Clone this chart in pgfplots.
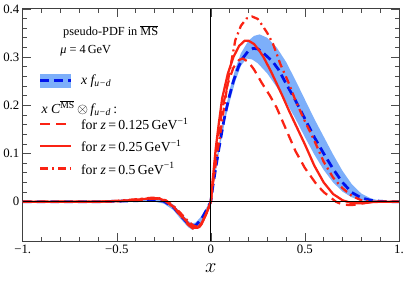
\documentclass[border=0pt]{standalone}
\usepackage{pgfplots}
\pgfplotsset{compat=1.18}
\usepackage{fontspec}
\setmainfont{Liberation Serif}
\definecolor{bandblue}{RGB}{125,175,250}
\definecolor{lblue}{RGB}{0,20,235}
\definecolor{lred}{RGB}{250,35,20}
\begin{document}
\begin{tikzpicture}
\begin{axis}[
  scale only axis, width=382pt, height=236pt,
  xmin=-1, xmax=1, ymin=-0.082, ymax=0.4,
  xtick={-1,-0.5,0,0.5,1}, xticklabels={−1.,−0.5,0,0.5,1.},
  ytick={0,0.1,0.2,0.3,0.4}, yticklabels={0,0.1,0.2,0.3,0.4},
  minor x tick num=4, minor y tick num=4,
  tick align=inside, major tick length=8pt, minor tick length=4pt,
  axis line style={black!75, line width=0.8pt},
  tick style={black!70, line width=0.6pt},
  ticklabel style={font=\fontsize{13}{13}\selectfont},
  xlabel={$x$}, xlabel style={font=\fontsize{21}{21}\selectfont, yshift=-4pt},
  clip=true,
]
% band
\addplot[fill=bandblue, draw=none] coordinates {
(-1,0.001) (-0.6,0.002) (-0.5,0.003) (-0.4,0.005) (-0.3,0.008) (-0.25,0.005) (-0.2,-0.006) (-0.16,-0.023) (-0.12,-0.04) (-0.1,-0.045) (-0.08,-0.043) (-0.05,-0.03) (-0.02,-0.01) (0,0)
(0.01,0.035) (0.02,0.065) (0.05,0.135) (0.08,0.195) (0.1,0.232) (0.13,0.275) (0.16,0.308) (0.2,0.334) (0.23,0.344) (0.26,0.347) (0.3,0.34) (0.35,0.32) (0.4,0.29) (0.45,0.252) (0.5,0.212) (0.55,0.172) (0.6,0.135) (0.65,0.098) (0.7,0.064) (0.75,0.036) (0.8,0.017) (0.85,0.007) (0.9,0.002) (0.95,0.0005) (1,0)
(1,0) (0.95,0) (0.9,0) (0.85,0.001) (0.8,0.003) (0.75,0.009) (0.7,0.021) (0.65,0.04) (0.6,0.066) (0.55,0.098) (0.5,0.134) (0.45,0.172) (0.4,0.207) (0.35,0.238) (0.3,0.266) (0.25,0.287) (0.22,0.295) (0.19,0.297) (0.16,0.282) (0.13,0.25) (0.1,0.207) (0.08,0.176) (0.05,0.118) (0.02,0.048) (0.01,0.025) (0,0)
(-0.02,-0.02) (-0.05,-0.042) (-0.08,-0.055) (-0.1,-0.058) (-0.12,-0.053) (-0.16,-0.036) (-0.2,-0.017) (-0.25,-0.004) (-0.3,0.0) (-0.4,0) (-0.5,-0.001) (-0.6,-0.002) (-1,-0.001)
} -- cycle;
% blue central
\addplot[lblue, line width=2.8pt, dash pattern=on 9pt off 5pt] coordinates {
(-1,0) (-0.6,0) (-0.5,0.001) (-0.4,0.002) (-0.3,0.004) (-0.25,0.001) (-0.2,-0.011) (-0.16,-0.029) (-0.12,-0.046) (-0.1,-0.051) (-0.08,-0.049) (-0.05,-0.036) (-0.02,-0.015) (0,0)
(0.01,0.03) (0.02,0.055) (0.043,0.11) (0.07,0.17) (0.095,0.214) (0.12,0.25) (0.147,0.28) (0.17,0.298) (0.2,0.313) (0.225,0.318) (0.25,0.317) (0.28,0.308) (0.3,0.301) (0.33,0.29) (0.36,0.274) (0.4,0.245) (0.45,0.21) (0.5,0.172) (0.55,0.134) (0.6,0.1) (0.65,0.068) (0.7,0.04) (0.75,0.019) (0.8,0.008) (0.85,0.003) (0.9,0.001) (0.95,0) (1,0)
};
% red dashed z=0.125
\addplot[lred, line width=2.3pt, dash pattern=on 10pt off 6pt] coordinates {
(-1,0) (-0.6,0) (-0.5,0.001) (-0.4,0.003) (-0.32,0.006) (-0.28,0.006) (-0.24,0.001) (-0.2,-0.011) (-0.16,-0.029) (-0.12,-0.048) (-0.09,-0.057) (-0.07,-0.057) (-0.05,-0.047) (-0.03,-0.031) (-0.01,-0.011) (0,0)
(0.01,0.04) (0.03,0.11) (0.06,0.19) (0.09,0.245) (0.12,0.278) (0.15,0.294) (0.17,0.297) (0.2,0.29) (0.23,0.274) (0.27,0.247) (0.314,0.22) (0.35,0.195) (0.4,0.15) (0.45,0.105) (0.5,0.07) (0.56,0.037) (0.6,0.02) (0.665,0.0) (0.7,-0.006) (0.75,-0.007) (0.8,-0.004) (0.85,-0.001) (0.9,0) (1,0)
};
% red solid z=0.25
\addplot[lred, line width=2.3pt] coordinates {
(-1,0) (-0.6,0) (-0.5,0.001) (-0.4,0.004) (-0.32,0.007) (-0.28,0.007) (-0.24,0.002) (-0.2,-0.01) (-0.16,-0.027) (-0.12,-0.045) (-0.09,-0.054) (-0.07,-0.054) (-0.05,-0.045) (-0.03,-0.03) (-0.01,-0.01) (0,0)
(0.01,0.045) (0.026,0.11) (0.04,0.155) (0.06,0.214) (0.09,0.265) (0.12,0.3) (0.15,0.323) (0.18,0.334) (0.2,0.334) (0.23,0.327) (0.26,0.312) (0.28,0.3) (0.32,0.27) (0.35,0.245) (0.38,0.22) (0.42,0.185) (0.46,0.152) (0.5,0.119) (0.55,0.075) (0.6,0.04) (0.65,0.016) (0.7,0.003) (0.75,-0.003) (0.8,-0.003) (0.85,-0.001) (0.9,0) (1,0)
};
% red dash-dot z=0.5
\addplot[lred, line width=2.3pt, dash pattern=on 8pt off 4pt on 2pt off 4pt] coordinates {
(-1,0) (-0.6,0) (-0.5,0.002) (-0.4,0.005) (-0.32,0.008) (-0.28,0.008) (-0.24,0.003) (-0.2,-0.008) (-0.16,-0.024) (-0.12,-0.041) (-0.09,-0.05) (-0.07,-0.052) (-0.05,-0.045) (-0.03,-0.03) (-0.01,-0.01) (0,0)
(0.01,0.035) (0.03,0.09) (0.05,0.14) (0.07,0.195) (0.095,0.26) (0.13,0.335) (0.16,0.365) (0.19,0.38) (0.22,0.384) (0.25,0.379) (0.28,0.362) (0.3,0.35) (0.33,0.328) (0.37,0.285) (0.41,0.25) (0.45,0.21) (0.5,0.167) (0.55,0.127) (0.6,0.083) (0.65,0.05) (0.7,0.028) (0.75,0.012) (0.8,0.003) (0.85,0) (1,0)
};
% zero axes
\addplot[black, line width=1.2pt] coordinates {(-1,0) (1,0)};
\addplot[black, line width=1.2pt] coordinates {(0,-0.082) (0,0.4)};
% legend
\node[anchor=west, font=\fontsize{12.5}{12.5}\selectfont, inner sep=0pt] at (rel axis cs:0.107,0.9025) {pseudo-PDF in $\overline{\mbox{MS}}$};
\node[anchor=west, font=\fontsize{12.5}{12.5}\selectfont, inner sep=0pt] at (rel axis cs:0.0995,0.818) {{\itshape μ} = 4\,GeV};
\fill[bandblue] (rel axis cs:0.047,0.661) rectangle (rel axis cs:0.128,0.720);
\draw[lblue, line width=2.8pt, dash pattern=on 9pt off 5pt] (rel axis cs:0.047,0.6907) -- (rel axis cs:0.128,0.6907);
\node[anchor=west, font=\fontsize{14}{14}\selectfont, inner sep=0pt] at (rel axis cs:0.1545,0.6907) {{\itshape x f}\textsubscript{\itshape u−d}};
\node[anchor=west, font=\fontsize{14}{14}\selectfont, inner sep=0pt] at (rel axis cs:0.0497,0.572) {{\itshape x C}\textsuperscript{$\overline{\mbox{MS}}$}\,$\otimes$\,{\itshape f}\textsubscript{\itshape u−d}\,:};
\draw[lred, line width=2.3pt, dash pattern=on 10pt off 6pt] (rel axis cs:0.047,0.504) -- (rel axis cs:0.128,0.504);
\draw[lred, line width=2.3pt] (rel axis cs:0.047,0.409) -- (rel axis cs:0.128,0.409);
\draw[lred, line width=2.3pt, dash pattern=on 8pt off 4pt on 2pt off 4pt] (rel axis cs:0.047,0.3136) -- (rel axis cs:0.128,0.3136);
\node[anchor=west, font=\fontsize{14}{14}\selectfont, inner sep=0pt] at (rel axis cs:0.1545,0.504) {for {\itshape z}\,=\,0.125\,GeV\textsuperscript{−1}};
\node[anchor=west, font=\fontsize{14}{14}\selectfont, inner sep=0pt] at (rel axis cs:0.1545,0.409) {for {\itshape z}\,=\,0.25\,GeV\textsuperscript{−1}};
\node[anchor=west, font=\fontsize{14}{14}\selectfont, inner sep=0pt] at (rel axis cs:0.1545,0.3136) {for {\itshape z}\,=\,0.5\,GeV\textsuperscript{−1}};
\end{axis}
\path (current axis.south west) ++(-19pt,-53pt) coordinate (bl);
\path (current axis.north east) ++(6pt,9pt) coordinate (tr);
\path (bl) rectangle (tr);
\end{tikzpicture}
\end{document}
